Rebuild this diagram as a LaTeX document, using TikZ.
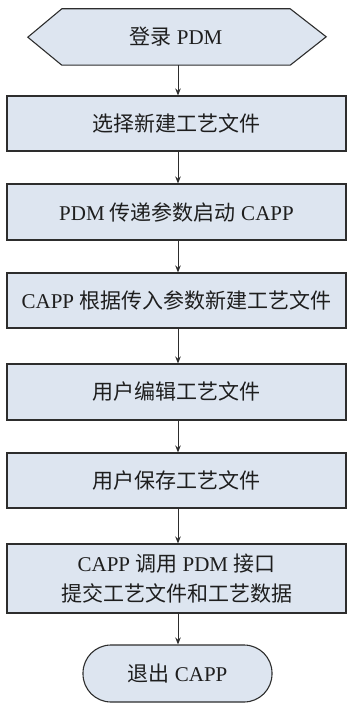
\documentclass[tikz,border=0pt]{standalone}
\usepackage{fontspec}
\setmainfont{Liberation Serif}
\newfontfamily\cjk{Noto Sans CJK SC}
\usetikzlibrary{arrows.meta}
\definecolor{boxfill}{RGB}{221,229,240}
\definecolor{edge}{RGB}{45,45,45}
\definecolor{ink}{RGB}{30,30,30}
\tikzset{
  x=1pt, y=1pt,
  labelfont/.style={font=\fontsize{21}{30}\selectfont},
  flowbox/.style={draw=edge, line width=1.1pt, fill=boxfill, text=ink,
    minimum width=339pt, inner sep=0pt, align=center, labelfont},
  flowarrow/.style={draw=edge, line width=1pt, -{Stealth[length=7pt,width=5.5pt]}},
}
\begin{document}
\begin{tikzpicture}
\useasboundingbox (0,0) rectangle (347,-703);

% start: hexagonal terminal
\node[minimum width=228pt, minimum height=56pt, inner sep=0pt] (login) at (176,-37) {};
\draw[edge, line width=1.1pt, fill=boxfill]
  (login.north west) -- (login.north east) -- ++(36,-28) -- (login.south east)
  -- (login.south west) -- ++(-34,28) -- cycle;
\node[text=ink, labelfont] at (login.center) {{\cjk 登录} PDM};

% process steps
\node[flowbox, minimum height=55pt] (s1) at (176.5,-123.5) {\cjk 选择新建工艺文件};
\node[flowbox, minimum height=56pt] (s2) at (176.5,-212) {PDM {\cjk 传递参数启动} CAPP};
\node[flowbox, minimum height=55pt] (s3) at (176.5,-300.5) {CAPP {\cjk 根据传入参数新建工艺文件}};
\node[flowbox, minimum height=56pt] (s4) at (176.5,-392) {\cjk 用户编辑工艺文件};
\node[flowbox, minimum height=55pt] (s5) at (176.5,-480.5) {\cjk 用户保存工艺文件};
\node[flowbox, minimum height=69pt] (s6) at (176.5,-578.5)
  {CAPP {\cjk 调用} PDM {\cjk 接口}\\{\cjk 提交工艺文件和工艺数据}};

% end: rounded terminal
\node[draw=edge, line width=1.1pt, fill=boxfill, text=ink, rounded corners=28pt,
      minimum width=189pt, minimum height=57pt, inner sep=0pt, labelfont]
      (quit) at (177.5,-673.5) {{\cjk 退出} CAPP};

% connectors
\draw[flowarrow] (login.south -| s1.north) ++(1.5,0) coordinate (a0) -- (a0 |- s1.north);
\draw[flowarrow] ([xshift=1.5pt]s1.south) -- ([xshift=1.5pt]s2.north);
\draw[flowarrow] ([xshift=1.5pt]s2.south) -- ([xshift=1.5pt]s3.north);
\draw[flowarrow] ([xshift=1.5pt]s3.south) -- ([xshift=1.5pt]s4.north);
\draw[flowarrow] ([xshift=1.5pt]s4.south) -- ([xshift=1.5pt]s5.north);
\draw[flowarrow] ([xshift=1.5pt]s5.south) -- ([xshift=1.5pt]s6.north);
\draw[flowarrow] ([xshift=1.5pt]s6.south) -- ([xshift=0.5pt]quit.north);
\end{tikzpicture}
\end{document}
